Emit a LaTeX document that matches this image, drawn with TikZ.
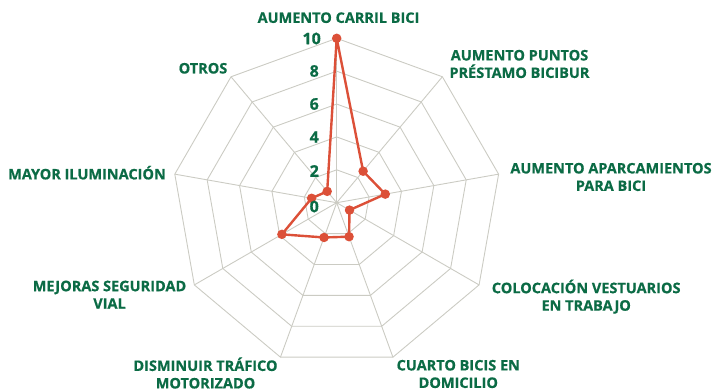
\documentclass[tikz,border=0pt]{standalone}
\usepackage{fontspec}
\setmainfont{Open Sans}[BoldFeatures={FakeBold=0.6}]
\usetikzlibrary{calc}
\definecolor{lblgreen}{HTML}{0B6B45}
\definecolor{datared}{HTML}{DC5038}
\definecolor{gridgray}{HTML}{CBCBC3}
\tikzset{
  axlabel/.style={font=\bfseries\fontsize{14.5}{17.5}\selectfont, text=lblgreen, align=center, inner sep=0pt},
  ticklabel/.style={font=\bfseries\fontsize{16}{17}\selectfont, text=lblgreen, anchor=east, inner sep=0pt},
  gridline/.style={draw=gridgray, line width=0.9pt},
  dataline/.style={draw=datared, line width=2.4pt, line join=round},
  datadot/.style={circle, fill=datared, inner sep=0pt, minimum size=9.5pt},
}
\begin{document}
\begin{tikzpicture}[x=1pt,y=-1pt]
\useasboundingbox (0,0) rectangle (716,391);
\def\cx{336.7}\def\cy{202.7}\def\R{164.4}
\coordinate (c) at (\cx,\cy);
% grid rings
\foreach \v in {2,4,6,8,10}{
  \draw[gridline] ($(c)+(-90:\R*\v/10)$)
    \foreach \k in {1,...,8}{ -- ($(c)+({40*\k-90}:\R*\v/10)$) } -- cycle;
}
% spokes
\foreach \k in {0,...,8}{
  \coordinate (v\k) at ($(c)+({40*\k-90}:\R)$);
  \draw[gridline] (c) -- (v\k);
}
% data
\foreach \val [count=\i from 0] in {10,2.5,3,0.9,2.2,2.25,3.85,1.55,0.9}{
  \coordinate (d\i) at ($(c)+({40*\i-90}:\R*\val/10)$);
}
\draw[dataline] (d0) -- (d1) -- (d2) -- (d3) -- (d4) -- (d5) -- (d6) -- (d7) -- (d8) -- cycle;
\foreach \i in {0,...,8}{ \node[datadot] (p\i) at (d\i) {}; }
% tick labels
\node[ticklabel] (t10) at (321,38.5) {10};
\node[ticklabel] (t8) at (319,71) {8};
\node[ticklabel] (t6) at (319,104) {6};
\node[ticklabel] (t4) at (319,137) {4};
\node[ticklabel] (t2) at (319,171) {2};
\node[ticklabel] (t0) at (319,206.5) {0};
% axis labels
\node[axlabel] (l0) at (338.5,17.7) {AUMENTO CARRIL BICI};
\node[axlabel] (l1) at (519.5,64) {AUMENTO PUNTOS\\PRÉSTAMO BICIBUR};
\node[axlabel] (l2) at (611,177) {AUMENTO APARCAMIENTOS\\PARA BICI};
\node[axlabel] (l3) at (586.2,296.7) {COLOCACIÓN VESTUARIOS\\EN TRABAJO};
\node[axlabel] (l4) at (458.3,374) {CUARTO BICIS EN\\DOMICILIO};
\node[axlabel] (l5) at (205.5,373) {DISMINUIR TRÁFICO\\MOTORIZADO};
\node[axlabel] (l6) at (109.5,294.7) {MEJORAS SEGURIDAD\\VIAL};
\node[axlabel] (l7) at (87,172.7) {MAYOR ILUMINACIÓN};
\node[axlabel] (l8) at (203,68.3) {OTROS};
\end{tikzpicture}
\end{document}
